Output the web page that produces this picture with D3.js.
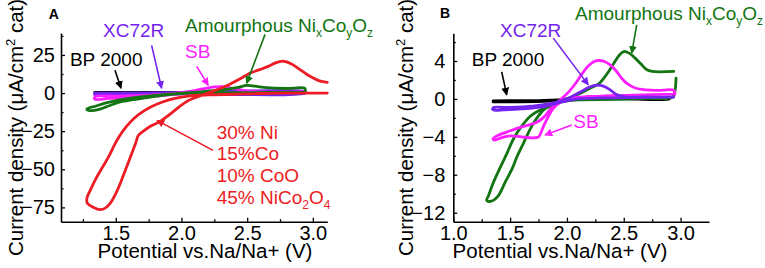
<!DOCTYPE html>
<html><head><meta charset="utf-8">
<script src="https://cdnjs.cloudflare.com/ajax/libs/d3/7.8.5/d3.min.js"></script>
<style>
html,body{margin:0;padding:0;background:#fff;}
svg{display:block;font-family:Arial,"Liberation Sans",sans-serif;}
</style></head>
<body><svg id="chart" width="765" height="268"></svg>
<script>
// ---------------- DATA ----------------
// Panel A: current density (µA/cm² cat) vs potential (V)
const xTicksA = [1.5, 2.0, 2.5, 3.0];
const xMinorA = [1.25, 1.75, 2.25, 2.75];
const yTicksA = [25, 0, -25, -50, -75];
const yMinorA = [37.5, 12.5, -12.5, -37.5, -62.5];

const redA = [[3.11,0],[2.9,0],[2.6,-0.3],[2.4,-0.8],[2.2,-1.2],[2.05,-2.0],[1.95,-3.5],[1.85,-6.0],[1.77,-9],[1.7,-12.5],[1.64,-16.5],[1.58,-22],[1.53,-28],[1.49,-34],[1.45,-41],[1.4,-48.5],[1.35,-56],[1.31,-63],[1.28,-69],[1.285,-72.5],[1.33,-75],[1.38,-76.5],[1.42,-75.5],[1.46,-72],[1.5,-66],[1.54,-58],[1.58,-49],[1.62,-40],[1.655,-32],[1.67,-28],[1.71,-25],[1.77,-21.5],[1.83,-19],[1.88,-16],[1.94,-12],[1.99,-8.5],[2.05,-5],[2.12,-2.5],[2.2,0],[2.28,2.5],[2.36,5.5],[2.44,9],[2.52,13],[2.6,15.5],[2.66,17.5],[2.72,20],[2.77,21],[2.8,20.5],[2.85,18.5],[2.9,15.5],[2.95,12.5],[3.0,10],[3.05,8],[3.11,7]];
const greenA = [[2.94,0.5],[2.5,0.3],[2.0,-0.3],[1.8,-1.5],[1.6,-3.5],[1.45,-6],[1.35,-8.5],[1.28,-10.5],[1.3,-11.5],[1.38,-10.5],[1.46,-8],[1.55,-5.5],[1.7,-3.5],[1.9,-1],[2.1,0.5],[2.3,2],[2.42,3.5],[2.5,5],[2.56,4.5],[2.65,3.5],[2.8,3],[2.94,3],[2.94,0.5]];
const magentaA = [[2.94,0.5],[2.5,0.3],[2.2,0],[2.0,-0.5],[1.8,-2],[1.6,-3],[1.45,-3.5],[1.34,-4],[1.34,-2.5],[1.5,-2],[1.7,-1.5],[1.9,-0.5],[2.05,1],[2.15,2.5],[2.25,4],[2.32,4.2],[2.4,3],[2.5,1.5],[2.6,0.8],[2.94,0.8]];
const purpleA = [[1.34,0],[2.0,0.3],[2.94,0.8],[2.94,0],[2.0,-0.5],[1.6,-1],[1.34,-1.2]];
const blackA = [[1.34,0.5],[2.0,0.5],[2.5,0.5],[2.94,0.3],[2.94,0],[2.0,-0.2],[1.34,-0.3]];

// Panel B
const xTicksB = [1.0, 1.5, 2.0, 2.5, 3.0];
const xMinorB = [1.25, 1.75, 2.25, 2.75];
const yTicksB = [4, 0, -4, -8, -12];
const yMinorB = [6, 2, -2, -6, -10];

const greenB = [[2.96,2.2],[2.95,0.8],[2.93,0.2],[2.7,0.05],[2.4,-0.05],[2.1,-0.1],[1.95,-0.3],[1.85,-0.8],[1.76,-1.2],[1.68,-1.8],[1.6,-2.9],[1.53,-4.2],[1.47,-5.8],[1.41,-7.3],[1.35,-8.9],[1.31,-10.2],[1.294,-10.7],[1.33,-10.8],[1.39,-10.3],[1.46,-8.7],[1.52,-7.3],[1.56,-6.1],[1.62,-4.6],[1.68,-3.1],[1.73,-2.1],[1.8,-1.1],[1.88,-0.5],[1.96,-0.1],[2.03,0.15],[2.11,0.55],[2.2,1.1],[2.28,1.6],[2.35,2.6],[2.41,3.7],[2.46,4.6],[2.5,5.0],[2.55,4.8],[2.6,4.3],[2.65,3.7],[2.7,3.1],[2.75,2.9],[2.94,2.9]];
const magentaB = [[2.95,0.5],[2.6,0.4],[2.3,0.3],[2.05,0.1],[1.95,-0.3],[1.88,-1.0],[1.83,-2.0],[1.79,-3.0],[1.75,-4.0],[1.7,-4.1],[1.6,-4.0],[1.5,-3.9],[1.42,-4.1],[1.36,-4.35],[1.35,-4.2],[1.4,-3.8],[1.47,-3.5],[1.56,-3.1],[1.65,-2.8],[1.73,-2.5],[1.79,-2.0],[1.84,-1.3],[1.9,-0.5],[1.96,0.1],[2.02,0.8],[2.08,1.7],[2.13,2.6],[2.19,3.5],[2.24,3.95],[2.28,4.05],[2.33,3.95],[2.38,3.6],[2.43,3.0],[2.48,2.2],[2.53,1.6],[2.6,1.15],[2.7,0.95],[2.8,0.9],[2.94,0.9],[2.95,0.5]];
const purpleB = [[2.94,0.2],[2.6,0.15],[2.3,0.1],[2.1,0],[2.0,-0.2],[1.9,-0.5],[1.8,-0.8],[1.6,-1.05],[1.45,-1.15],[1.35,-1.15],[1.35,-0.95],[1.5,-0.9],[1.7,-0.75],[1.85,-0.5],[1.95,-0.2],[2.0,0],[2.08,0.5],[2.15,0.95],[2.2,1.25],[2.26,1.45],[2.32,1.35],[2.38,0.95],[2.43,0.5],[2.5,0.25],[2.7,0.2],[2.94,0.2]];
const blackB = [[1.35,-0.2],[1.8,-0.15],[2.0,-0.05],[2.2,0.2],[2.4,0.3],[2.6,0.2],[2.9,0.1],[2.9,0.0],[2.5,0.0],[2.1,-0.05],[1.8,-0.25],[1.35,-0.3]];

// labels
const xTitle = "Potential vs.Na/Na+ (V)";
const legendRedA = ["30% Ni", "15%Co", "10% CoO"];

// ---------------- DRAW ----------------
const svg = d3.select("#chart");
const COL = {red:"#ec1c24", green:"#127512", magenta:"#ff1eff", purple:"#7424ee", black:"#000"};

const defs = svg.append("defs");
Object.entries(COL).forEach(([k,c])=>{
  defs.append("marker").attr("id","ah-"+k).attr("viewBox","0 0 10 10")
    .attr("refX",9).attr("refY",5).attr("markerWidth",8).attr("markerHeight",8)
    .attr("markerUnits","userSpaceOnUse").attr("orient","auto")
    .append("path").attr("d","M0,0L10,5L0,10z").attr("fill",c);
});

function panel(cfg){
  const x = d3.scaleLinear().domain(cfg.xd).range(cfg.xr);
  const y = d3.scaleLinear().domain(cfg.yd).range(cfg.yr);
  const g = svg.append("g");

  const line = d3.line().x(d=>x(d[0])).y(d=>y(d[1])).curve(d3.curveCatmullRom.alpha(0.5));
  cfg.series.forEach(s=>{
    g.append("path").datum(s.data).attr("d",line).attr("fill","none")
      .attr("stroke",COL[s.c]).attr("stroke-width",2.8).attr("stroke-linejoin","round").attr("stroke-linecap","round");
  });

  g.append("g").attr("transform",`translate(0,${cfg.yr[0]})`)
    .call(d3.axisBottom(x).tickValues(cfg.xt).tickFormat(d3.format(".1f")).tickSizeInner(-4).tickSizeOuter(0).tickPadding(4));
  g.append("g").attr("transform",`translate(0,${cfg.yr[0]})`)
    .call(d3.axisBottom(x).tickValues(cfg.xm).tickFormat("").tickSizeInner(-2.5).tickSizeOuter(0))
    .call(a=>a.select(".domain").remove());
  g.append("g").attr("transform",`translate(${cfg.xr[0]},0)`)
    .call(d3.axisLeft(y).tickValues(cfg.yt).tickFormat(d3.format("d")).tickSizeInner(-4).tickSizeOuter(0).tickPadding(cfg.ypad));
  g.append("g").attr("transform",`translate(${cfg.xr[0]},0)`)
    .call(d3.axisLeft(y).tickValues(cfg.ym).tickFormat("").tickSizeInner(-2.5).tickSizeOuter(0))
    .call(a=>a.select(".domain").remove());
  g.selectAll(".domain").attr("stroke","#000").attr("stroke-width",1.6);
  g.selectAll(".tick line").attr("stroke","#000").attr("stroke-width",1.3);
  g.selectAll(".tick text").attr("font-size",20).attr("font-family","Arial,'Liberation Sans',sans-serif").attr("fill","#000");

  g.append("text").attr("x",cfg.xtitleX).attr("y",258).attr("text-anchor","middle")
    .attr("font-size",20.5).text(xTitle);
  const yt = g.append("text").attr("transform",`translate(${cfg.ytitleX},127.5) rotate(-90)`)
    .attr("text-anchor","middle").attr("font-size",20.5);
  yt.append("tspan").text("Current density (\u03bcA/cm");
  yt.append("tspan").attr("dy",-8).attr("font-size",13).text("2");
  yt.append("tspan").attr("dy",8).text(" cat)");

  g.append("text").attr("x",x(cfg.letter[0])).attr("y",y(cfg.letter[1]))
    .attr("font-weight","bold").attr("font-size",14).text(cfg.letter[2]);

  cfg.arrows.forEach(a=>{
    g.append("line").attr("x1",x(a[0])).attr("y1",y(a[1])).attr("x2",x(a[2])).attr("y2",y(a[3]))
      .attr("stroke",COL[a[4]]).attr("stroke-width",1.6).attr("marker-end",`url(#ah-${a[4]})`);
  });
  cfg.labels.forEach(l=>{
    const t = g.append("text").attr("x",x(l[0])).attr("y",y(l[1])).attr("font-size",19).attr("fill",COL[l[3]]);
    let shift = 0;
    l[2].forEach(p=>{
      if(typeof p === "string"){
        const ts = t.append("tspan").text(p);
        if(shift){ ts.attr("dy",-shift); shift = 0; }
      } else {
        t.append("tspan").attr("dy",5).attr("font-size",12).text(p.s);
        shift = 5;
      }
    });
  });
  return {x,y};
}

const amorph = ["Amourphous Ni",{s:"x"},"Co",{s:"y"},"O",{s:"z"}];

panel({
  xd:[1.083,3.11], xr:[61,327.3], yd:[-84.4,39.4], yr:[221.7,33],
  xt:xTicksA, xm:xMinorA, yt:yTicksA, ym:yMinorA, ypad:6,
  xtitleX:205, ytitleX:23, letter:[0.99,48.5,"A"],
  series:[{data:blackA,c:"black"},{data:purpleA,c:"purple"},{data:magentaA,c:"magenta"},{data:greenA,c:"green"},{data:redA,c:"red"}],
  arrows:[[1.494,14.9,1.540,3.1,"black"],[1.773,31.3,1.849,3.1,"purple"],[2.116,17.5,2.204,5.1,"magenta"],[2.636,38.5,2.496,6.4,"green"],[2.240,-37.6,1.814,-17.9,"red"]],
  labels:[[1.151,17.5,["BP 2000"],"black"],[1.403,36.7,["XC72R"],"purple"],[2.027,23.2,["SB"],"magenta"],[2.027,40,amorph,"green"],
    [2.268,-29.9,[legendRedA[0]],"red"],[2.268,-44.2,[legendRedA[1]],"red"],[2.268,-58.4,[legendRedA[2]],"red"],
    [2.268,-73.0,["45% NiCo",{s:"2"},"O",{s:"4"}],"red"]]
});

panel({
  xd:[1.0,3.25], xr:[453.3,709], yd:[-12.95,6.92], yr:[221.7,33.3],
  xt:xTicksB, xm:xMinorB, yt:yTicksB, ym:yMinorB, ypad:8,
  xtitleX:560, ytitleX:413, letter:[0.883,8.52,"B"],
  series:[{data:blackB,c:"black"},{data:greenB,c:"green"},{data:magentaB,c:"magenta"},{data:purpleB,c:"purple"}],
  arrows:[[1.426,2.85,1.470,0.42,"black"],[1.880,6.41,2.188,1.48,"purple"],[2.614,7.81,2.570,4.82,"green"],[2.042,-2.74,1.807,-3.80,"magenta"]],
  labels:[[1.162,3.48,["BP 2000"],"black"],[1.411,6.58,["XC72R"],"purple"],[2.071,8.34,amorph,"green"],[2.056,-3.09,["SB"],"magenta"]]
});
</script></body></html>
